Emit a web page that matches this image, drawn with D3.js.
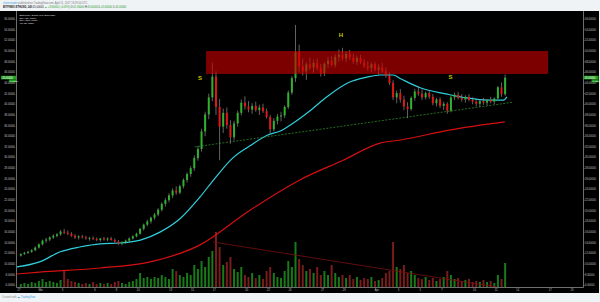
<!DOCTYPE html>
<html>
<head>
<meta charset="utf-8">
<script src="https://cdn.jsdelivr.net/npm/d3@7"></script>
<style>
html, body { margin: 0; padding: 0; background: #f0f3f6; }
svg { display: block; font-family: "Liberation Sans", Arial, sans-serif; }
</style>
</head>
<body>
<svg id="chart" width="600" height="302"></svg>
<script>
// ETHUSD (Bitfinex), 8h candles from Feb 27 2017, three per day
var firstCandle = "2017-02-27T00:00:00Z";
var candleHours = 8;

// [open, high, low, close]
var candles = [
	[11.6,12.0,11.4,11.9],[11.9,12.3,11.7,12.1],[12.1,12.5,11.9,12.3],   // Feb 27
	[12.3,12.8,12.1,12.6],[12.6,13.3,12.4,13.1],[13.1,13.9,12.9,13.7],   // Feb 28
	[13.7,14.6,13.5,14.4],[14.4,14.9,14.0,14.6],[14.6,15.2,14.3,15.0],   // Mar 1
	[15.0,15.6,14.7,15.3],[15.3,15.8,15.0,15.6],[15.6,16.4,15.3,16.1],   // Mar 2
	[16.1,16.6,15.6,15.9],[15.9,16.3,15.4,15.7],[15.7,16.0,15.1,15.3],   // Mar 3
	[15.3,15.6,14.7,15.0],[15.0,15.4,14.6,15.2],[15.2,15.5,14.8,15.0],   // Mar 4
	[15.0,15.3,14.6,14.8],[14.8,15.1,14.4,14.9],[14.9,15.2,14.5,14.7],   // Mar 5
	[14.7,15.0,14.3,14.5],[14.5,14.9,14.2,14.8],[14.8,15.1,14.4,14.6],   // Mar 6
	[14.6,15.0,14.3,14.8],[14.8,15.1,14.4,14.5],[14.5,14.8,14.0,14.2],   // Mar 7
	[14.2,14.5,13.6,13.9],[13.9,14.3,13.5,14.1],[14.1,14.6,13.8,14.4],   // Mar 8
	[14.4,15.0,14.2,14.8],[14.8,15.4,14.6,15.2],[15.2,15.9,15.0,15.7],   // Mar 9
	[15.7,16.8,15.5,16.6],[16.6,17.6,16.3,17.4],[17.4,18.3,17.1,18.0],   // Mar 10
	[18.0,18.9,17.6,18.7],[18.7,19.6,18.3,19.3],[19.3,20.5,19.0,20.2],   // Mar 11
	[20.2,21.6,19.9,21.3],[21.3,22.4,20.8,22.0],[22.0,23.3,21.6,22.9],   // Mar 12
	[22.9,24.2,22.4,23.8],[23.8,24.6,23.0,23.4],[23.4,24.9,23.1,24.6],   // Mar 13
	[24.6,26.1,24.2,25.8],[25.8,27.2,25.3,26.9],[26.9,28.4,26.4,28.0],   // Mar 14
	[28.0,30.4,27.5,29.9],[29.9,32.2,29.4,31.6],[31.6,35.4,31.1,34.9],   // Mar 15
	[34.9,38.6,34.0,38.1],[38.1,42.0,37.2,41.3],[41.3,47.8,40.6,45.2],   // Mar 16
	[45.2,46.2,38.0,39.5],[39.5,41.0,29.5,35.8],[35.8,39.2,34.6,38.4],   // Mar 17
	[38.4,39.4,35.4,36.1],[36.1,37.0,32.6,33.8],[33.8,36.9,33.2,36.4],   // Mar 18
	[36.4,38.8,35.8,38.4],[38.4,40.9,37.9,40.3],[40.3,41.5,39.0,39.6],   // Mar 19
	[39.6,40.6,38.5,39.0],[39.0,40.2,38.2,39.7],[39.7,40.5,38.6,38.9],   // Mar 20
	[38.9,39.9,38.0,39.4],[39.4,40.1,38.4,38.7],[38.7,39.2,37.3,37.6],   // Mar 21
	[37.6,38.0,34.6,35.3],[35.3,37.4,34.9,36.9],[36.9,38.2,36.2,37.7],   // Mar 22
	[37.7,38.6,36.8,37.9],[37.9,39.8,37.4,39.5],[39.5,42.6,39.1,42.2],   // Mar 23
	[42.2,45.3,41.8,44.9],[44.9,54.9,44.2,49.8],[49.8,51.2,46.0,47.1],   // Mar 24
	[47.1,48.6,45.4,46.2],[46.2,47.9,44.6,47.5],[47.5,48.8,46.5,46.9],   // Mar 25
	[46.9,48.4,45.9,47.8],[47.8,48.6,46.4,46.8],[46.8,47.6,45.2,45.8],   // Mar 26
	[45.8,47.9,45.3,47.6],[47.6,48.9,46.8,48.2],[48.2,49.0,47.1,47.4],   // Mar 27
	[47.4,49.4,46.9,48.9],[48.9,50.3,48.0,49.3],[49.3,50.6,48.2,48.6],   // Mar 28
	[48.6,50.0,47.9,49.5],[49.5,50.2,48.3,48.8],[48.8,49.5,47.6,48.0],   // Mar 29
	[48.0,49.2,47.4,48.7],[48.7,49.3,47.6,47.9],[47.9,48.5,46.8,47.2],   // Mar 30
	[47.2,48.1,46.3,46.8],[46.8,47.9,46.0,47.5],[47.5,48.0,46.2,46.5],   // Mar 31
	[46.5,47.5,45.6,46.9],[46.9,47.8,45.9,46.2],[46.2,46.9,45.0,45.4],   // Apr 1
	[45.4,46.0,43.6,44.0],[44.0,44.5,40.8,41.3],[41.3,42.6,40.2,42.1],   // Apr 2
	[42.1,42.9,40.3,40.9],[40.9,41.6,38.9,39.6],[39.6,40.4,37.4,39.1],   // Apr 3
	[39.1,41.5,38.8,41.2],[41.2,42.9,40.7,42.4],[42.4,43.3,41.6,42.0],   // Apr 4
	[42.0,42.8,40.8,41.3],[41.3,42.4,40.9,42.1],[42.1,42.7,41.0,41.4],   // Apr 5
	[41.4,41.9,39.8,40.2],[40.2,41.2,39.6,40.9],[40.9,41.3,39.3,39.7],   // Apr 6
	[39.7,40.5,38.9,40.1],[40.1,40.4,38.2,38.8],[38.8,41.6,38.5,41.3],   // Apr 7
	[41.3,42.2,40.8,41.8],[41.8,42.3,40.9,41.2],[41.2,41.9,40.5,40.9],   // Apr 8
	[40.9,41.7,40.3,41.4],[41.4,41.9,40.6,40.8],[40.8,41.3,40.0,40.5],   // Apr 9
	[40.5,41.0,39.6,40.1],[40.1,40.9,39.5,40.6],[40.6,41.2,39.9,40.3],   // Apr 10
	[40.3,41.0,39.8,40.8],[40.8,41.4,40.2,40.5],[40.5,41.3,40.0,41.1],   // Apr 11
	[41.1,43.4,40.9,43.2],[43.2,44.1,41.4,41.9],[41.9,45.6,41.6,45.0]    // Apr 12
];

// volume per candle (thousand ETH)
var volumes = [
	3,4,3, 5,4,6, 8,5,6, 5,4,7, 17,8,6, 5,4,3, 4,3,5, 3,4,3, 4,3,5, 6,4,3,
	5,6,8, 14,9,10, 8,10,9, 12,10,8, 18,16,12, 10,14,12, 22,18,26, 20,30,36,
	55,40,22, 25,30,18, 15,20,12, 10,14,9, 12,8,16, 20,14,10, 9,16,26, 20,45,28,
	22,16,18, 14,20,12, 16,12,22, 14,10,12, 9,12,8, 10,7,9, 8,10,6, 7,9,14,
	16,45,20, 18,22,14, 16,12,9, 8,10,7, 9,6,8, 10,16,12, 8,9,6, 7,8,5,
	6,5,7, 5,6,4, 12,8,24
];

// moving averages: [days after Feb 27, price]
var ema50 = [
	[-0.2,9.45],[1.9,10.4],[3.8,12.3],[5.6,13.2],[7.5,13.8],[9.3,13.95],[11.2,14.5],
	[13.0,16.0],[14.9,18.6],[16.7,22.6],[18.1,26.2],[19.7,29.9],[21.3,32.2],[22.9,34.2],
	[24.1,35.0],[25.3,36.5],[26.9,38.9],[28.4,41.4],[30.3,44.0],[32.1,45.1],[33.3,45.5],
	[34.5,45.5],[35.2,44.8],[37.0,43.1],[39.5,41.9],[41.3,41.2],[43.2,40.8],[44.7,40.8],[45.0,41.4]
];
var ema200 = [
	[-0.2,8.13],[1.9,8.5],[7.5,9.26],[12.1,10.4],[16.7,13.6],[21.3,20.1],[25.9,25.8],
	[29.9,29.5],[33.3,32.7],[35.2,33.3],[39.8,35.2],[44.8,36.7]
];

var priceTicks = [6,8,10,12,14,16,18,20,22,24,26,28,30,32,34,36,38,40,42,44,46,48,50,52,54,56];
var timeTicks = ["2017-02-27","2017-03-01","2017-03-03","2017-03-06","2017-03-08","2017-03-10",
	"2017-03-13","2017-03-15","2017-03-17","2017-03-20","2017-03-22","2017-03-24","2017-03-27",
	"2017-03-29","2017-04-01","2017-04-03","2017-04-05","2017-04-07","2017-04-10","2017-04-12",
	"2017-04-14","2017-04-17","2017-04-19"];

// drawings on the chart, in [day, price]
var resistanceBox = [[17.25, 50.0], [48.8, 45.7]];
var neckline = [[16.2, 32.0], [45.6, 40.4]];
var volumeTrend = [[17.9, 45], [44.1, 0]];
var patternLabels = [["S", 16.7, 44.6], ["H", 29.7, 52.6], ["S", 39.8, 44.8]];

var legendLines = ["Ethereum / Dollar, 240, BITFINEX", "EMA (50, close)", "EMA (200, close)", "Vol (20, false)"];

var svg = d3.select("#chart");
var t0 = new Date(firstCandle).getTime();
var dayDate = function(d) { return new Date(t0 + d * 86400000); };

var x = d3.scaleUtc()
	.domain([new Date("2017-02-27T00:00:00Z"), new Date("2017-04-19T00:00:00Z")])
	.range([19, 572]);
var y = d3.scaleLinear().domain([6, 56]).range([285.35, 19.1]);
var v = d3.scaleLinear().domain([0, 100]).range([287, 187]);

// header and frame
svg.append("rect").attr("width", 600).attr("height", 302).attr("fill", "#f0f3f6");
svg.append("rect").attr("x", 0).attr("y", 11).attr("width", 599).attr("height", 282).attr("fill", "#000");

svg.append("clipPath").attr("id", "plot")
	.append("rect").attr("x", 17).attr("y", 11).attr("width", 566).attr("height", 276);
var plot = svg.append("g").attr("clip-path", "url(#plot)");

var centre = function(i) { return x(new Date(t0 + (i + 0.5) * candleHours * 3600000)); };

// volume
plot.append("g").selectAll("rect")
	.data(volumes)
	.enter().append("rect")
	.attr("x", function(d, i) { return centre(i) - 1; })
	.attr("width", 2)
	.attr("y", function(d) { return v(d); })
	.attr("height", function(d) { return v(0) - v(d); })
	.attr("fill", function(d, i) { return candles[i][3] >= candles[i][0] ? "#187a18" : "#7a1c1c"; });

plot.append("line")
	.attr("x1", x(dayDate(volumeTrend[0][0]))).attr("y1", v(volumeTrend[0][1]))
	.attr("x2", x(dayDate(volumeTrend[1][0]))).attr("y2", v(volumeTrend[1][1]))
	.attr("stroke", "#7a1010").attr("stroke-width", 0.8);

// moving averages
var maLine = d3.line()
	.x(function(d) { return x(dayDate(d[0])); })
	.y(function(d) { return y(d[1]); })
	.curve(d3.curveMonotoneX);
plot.append("path").datum(ema200).attr("d", maLine)
	.attr("fill", "none").attr("stroke", "#d41010").attr("stroke-width", 1.2);
plot.append("path").datum(ema50).attr("d", maLine)
	.attr("fill", "none").attr("stroke", "#2fd0dc").attr("stroke-width", 1.2);

// neckline
plot.append("line")
	.attr("x1", x(dayDate(neckline[0][0]))).attr("y1", y(neckline[0][1]))
	.attr("x2", x(dayDate(neckline[1][0]))).attr("y2", y(neckline[1][1]))
	.attr("stroke", "#2a8a2a").attr("stroke-width", 0.8).attr("stroke-dasharray", "2,1.5");

// candles
var candle = plot.append("g").selectAll("g")
	.data(candles)
	.enter().append("g");
candle.append("line")
	.attr("x1", function(d, i) { return centre(i); })
	.attr("x2", function(d, i) { return centre(i); })
	.attr("y1", function(d) { return y(d[1]); })
	.attr("y2", function(d) { return y(d[2]); })
	.attr("stroke", "#8c8c8c").attr("stroke-width", 0.7);
candle.append("rect")
	.attr("x", function(d, i) { return centre(i) - 1; })
	.attr("width", 2)
	.attr("y", function(d) { return y(Math.max(d[0], d[3])); })
	.attr("height", function(d) { return Math.max(0.8, Math.abs(y(d[0]) - y(d[3]))); })
	.attr("fill", function(d) { return d[3] >= d[0] ? "#2fb32f" : "#e01818"; });

// resistance zone
plot.append("rect")
	.attr("x", x(dayDate(resistanceBox[0][0])))
	.attr("y", y(resistanceBox[0][1]))
	.attr("width", x(dayDate(resistanceBox[1][0])) - x(dayDate(resistanceBox[0][0])))
	.attr("height", y(resistanceBox[1][1]) - y(resistanceBox[0][1]))
	.attr("fill", "#c80000").attr("fill-opacity", 0.62);

plot.append("g").selectAll("text")
	.data(patternLabels)
	.enter().append("text")
	.attr("x", function(d) { return x(dayDate(d[1])); })
	.attr("y", function(d) { return y(d[2]); })
	.attr("text-anchor", "middle")
	.attr("font-size", 6).attr("font-weight", "bold")
	.attr("fill", "#c8c800")
	.text(function(d) { return d[0]; });

// legend
svg.append("g").selectAll("text")
	.data(legendLines)
	.enter().append("text")
	.attr("x", 19.5)
	.attr("y", function(d, i) { return 15.8 + i * 2.7; })
	.attr("font-size", 2.4)
	.attr("fill", "#e8e8e8")
	.text(function(d) { return d; });

// axes
svg.append("line").attr("x1", 16.5).attr("x2", 16.5).attr("y1", 11).attr("y2", 287.5).attr("stroke", "#8a8a8a").attr("stroke-width", 0.8);
svg.append("line").attr("x1", 583.5).attr("x2", 583.5).attr("y1", 11).attr("y2", 287.5).attr("stroke", "#8a8a8a").attr("stroke-width", 0.8);
svg.append("line").attr("x1", 16.5).attr("x2", 583.5).attr("y1", 287.5).attr("y2", 287.5).attr("stroke", "#8a8a8a").attr("stroke-width", 0.8);

var fmt = d3.format(".5f");
svg.append("g").selectAll("text").data(priceTicks).enter().append("text")
	.attr("x", 15).attr("y", function(d) { return y(d) + 0.9; })
	.attr("text-anchor", "end").attr("font-size", 2.6).attr("fill", "#c0c0c0")
	.text(function(d) { return fmt(d); });
svg.append("g").selectAll("text").data(priceTicks).enter().append("text")
	.attr("x", 585).attr("y", function(d) { return y(d) + 0.9; })
	.attr("font-size", 2.6).attr("fill", "#c0c0c0")
	.text(function(d) { return fmt(d); });

svg.append("g").selectAll("line").data(priceTicks).enter().append("line")
	.attr("x1", 583.5).attr("x2", 585).attr("y1", function(d) { return y(d); }).attr("y2", function(d) { return y(d); })
	.attr("stroke", "#8a8a8a").attr("stroke-width", 0.5);

var monthName = d3.utcFormat("%b");
svg.append("g").selectAll("text").data(timeTicks).enter().append("text")
	.attr("x", function(d) { return x(new Date(d + "T00:00:00Z")); })
	.attr("y", 291.3)
	.attr("text-anchor", "middle").attr("font-size", 2.6).attr("fill", "#c0c0c0")
	.text(function(d) {
		var date = new Date(d + "T00:00:00Z");
		return date.getUTCDate() == 1 ? monthName(date) : date.getUTCDate();
	});

// last price label on both scales
var last = candles[candles.length - 1][3];
[[583.5, 598.5], [1, 16]].forEach(function(side) {
	svg.append("rect").attr("x", side[0]).attr("y", y(last) - 1.9).attr("width", side[1] - side[0]).attr("height", 3.6).attr("fill", "#1f9d1f");
	svg.append("text").attr("x", side[0] + 1.2).attr("y", y(last) + 0.9).attr("font-size", 2.6).attr("fill", "#fff").text(fmt(last));
	svg.append("rect").attr("x", side[1] - 7).attr("y", y(last) + 1.7).attr("width", 7).attr("height", 3).attr("fill", "#1f9d1f");
	svg.append("text").attr("x", side[1] - 6).attr("y", y(last) + 4).attr("font-size", 2.4).attr("fill", "#fff").text("1:42:07");
});

// header
var h1 = svg.append("text").attr("x", 3).attr("y", 3.6).attr("font-size", 2.6).attr("fill", "#777");
h1.append("tspan").attr("fill", "#3a9ad9").text("cheerstrader");
h1.append("tspan").text(" published on TradingView.com, April 11, 2017 19:29:00 UTC");
var h2 = svg.append("text").attr("x", 3).attr("y", 8.2).attr("font-size", 2.6).attr("fill", "#222");
h2.append("tspan").attr("font-weight", "bold").text("BITFINEX:ETHUSD, 240");
h2.append("tspan").text("  45.00000 ");
h2.append("tspan").attr("fill", "#1f9d1f").text("\u25B2 +3.90000 (+9.49%)");
h2.append("tspan").text(" O:");
h2.append("tspan").attr("fill", "#1f9d1f").text("41.90000");
h2.append("tspan").text(" H:");
h2.append("tspan").attr("fill", "#1f9d1f").text("45.60000");
h2.append("tspan").text(" L:");
h2.append("tspan").attr("fill", "#1f9d1f").text("41.60000");
h2.append("tspan").text(" C:");
h2.append("tspan").attr("fill", "#1f9d1f").text("45.00000");

// footer
var f = svg.append("text").attr("x", 2).attr("y", 298.3).attr("font-size", 2.6).attr("fill", "#888");
f.append("tspan").text("Created with  ");
f.append("tspan").attr("fill", "#3a9ad9").text("\u2601 TradingView");
</script>
</body>
</html>
